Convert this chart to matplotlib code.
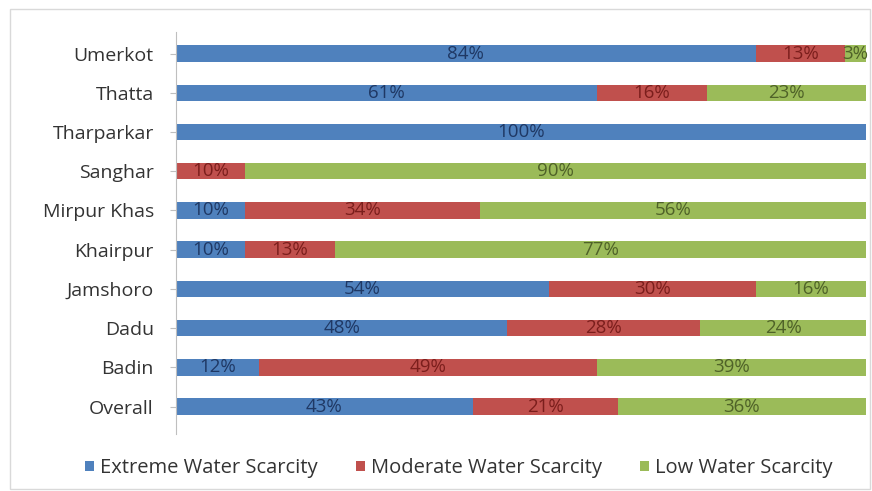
import numpy as np
import matplotlib
matplotlib.use("Agg")
import matplotlib.pyplot as plt
from matplotlib.patches import Rectangle

plt.rcParams['font.family'] = ['Open Sans', 'DejaVu Sans']

districts = ['Overall', 'Badin', 'Dadu', 'Jamshoro', 'Khairpur', 'Mirpur Khas',
             'Sanghar', 'Tharparkar', 'Thatta', 'Umerkot']
extreme = [43, 12, 48, 54, 10, 10, 0, 100, 61, 84]
moderate = [21, 49, 28, 30, 13, 34, 10, 0, 16, 13]
low = [36, 39, 24, 16, 77, 56, 90, 0, 23, 3]

series = ['Extreme Water Scarcity', 'Moderate Water Scarcity', 'Low Water Scarcity']
colors = ['#4F81BD', '#C0504D', '#9BBB59']
label_colors = ['#1F3864', '#7B1E1C', '#4F6228']

fig = plt.figure(figsize=(8.72, 4.91), dpi=100)
ax = fig.add_axes([176 / 872, 1 - 434 / 491, 690 / 872, 402 / 491])

y = np.arange(len(districts))
left = np.zeros(len(districts))
for vals, name, c, lc in zip([extreme, moderate, low], series, colors, label_colors):
    vals = np.array(vals, dtype=float)
    ax.barh(y, vals, left=left, height=0.42, color=c, label=name)
    for yi, v, l in zip(y, vals, left):
        if v > 0:
            ax.text(l + v / 2, yi, f'{int(v)}%', ha='center', va='center',
                    fontsize=13.5, color=lc)
    left += vals

ax.set_xlim(0, 100)
ax.set_ylim(-0.7, 9.55)
ax.set_yticks(y)
ax.set_yticklabels(districts, fontsize=14, color='#333333')
ax.set_xticks([])
for s in ['top', 'right', 'bottom']:
    ax.spines[s].set_visible(False)
ax.spines['left'].set_color('#BFBFBF')
ax.tick_params(axis='y', length=4, color='#BFBFBF', pad=12)

ax.legend(loc='center', bbox_to_anchor=(0.5 - 62 / 690, -0.085), ncol=3, frameon=False,
          fontsize=14.5, handlelength=0.45, handleheight=0.45, handletextpad=0.3,
          columnspacing=1.9, labelcolor='#333333')

fig.patches.append(Rectangle((10 / 872, 2 / 491), 860 / 872, 480 / 491,
                             transform=fig.transFigure, fill=False,
                             edgecolor='#D9D9D9', linewidth=1))

fig.savefig('out.png', dpi=100)
